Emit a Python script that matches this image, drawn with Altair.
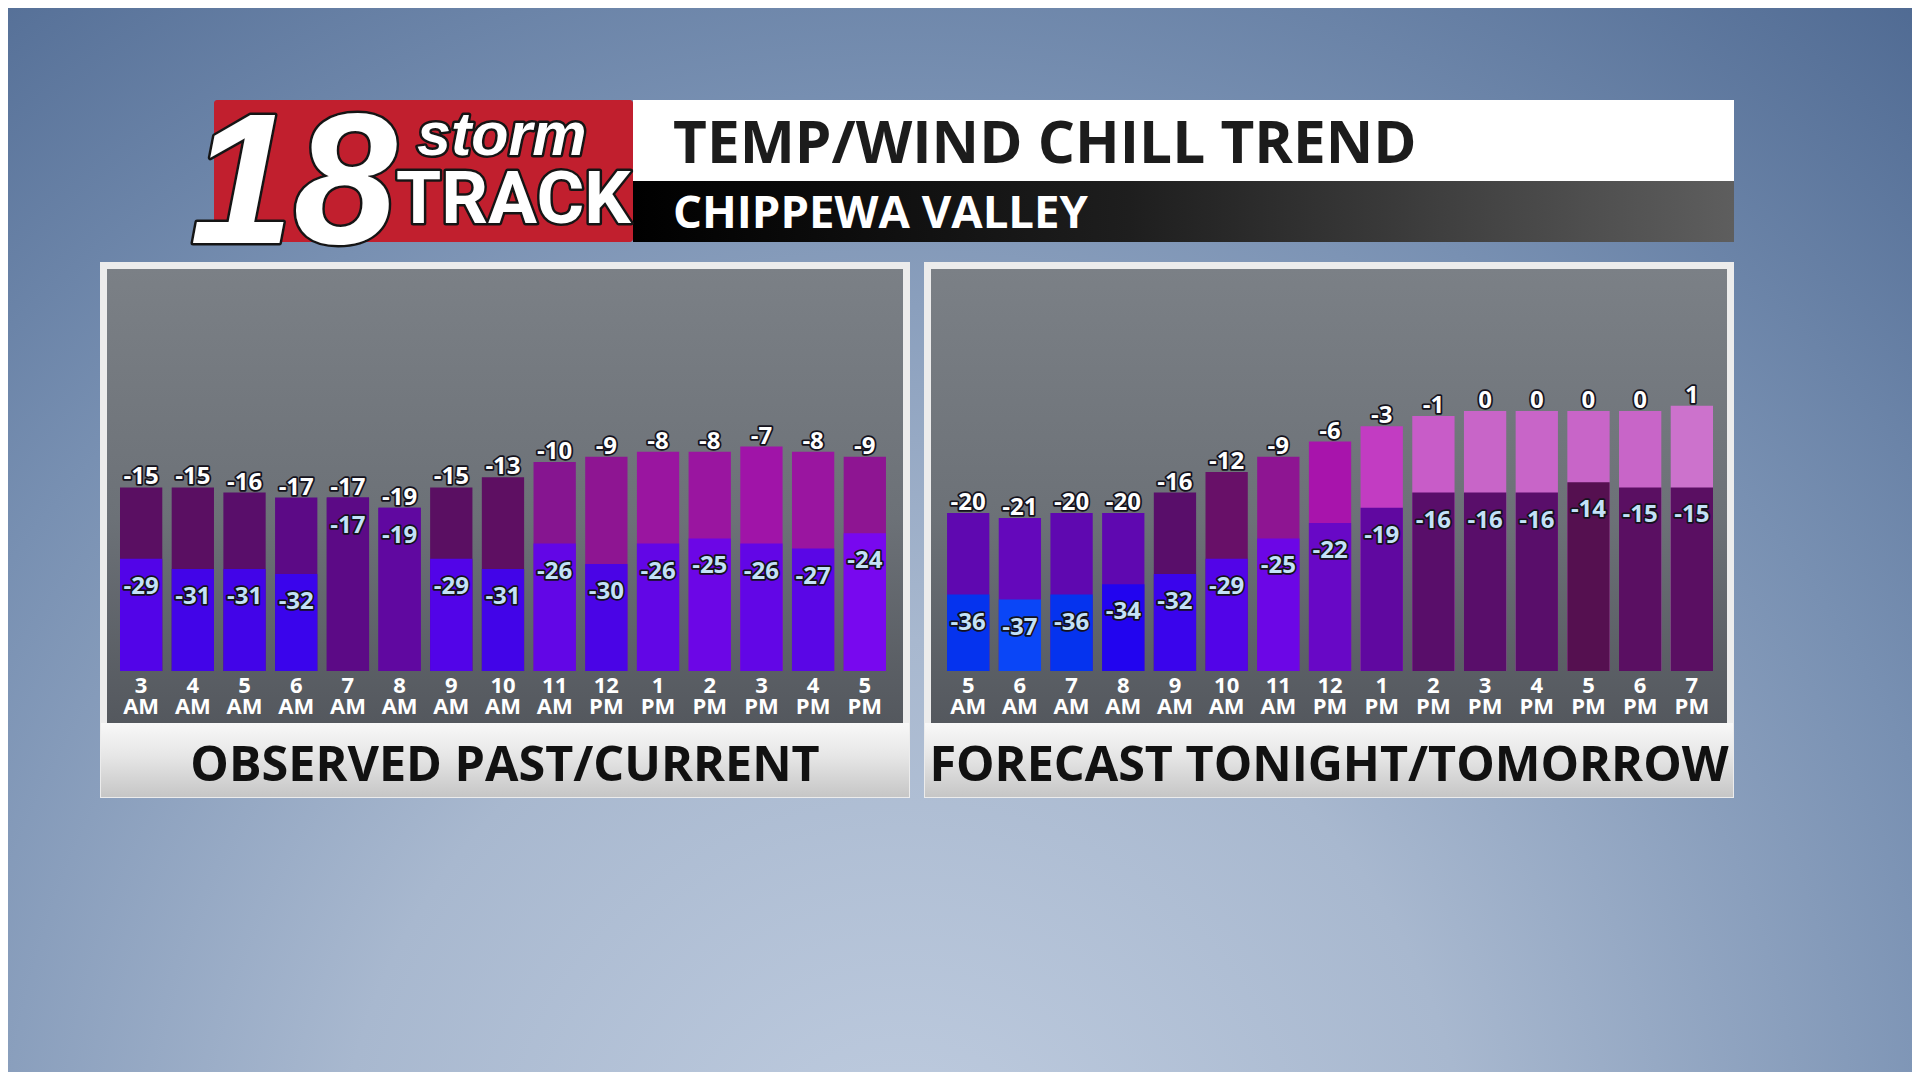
import altair as alt
import pandas as pd

# ---------------- data ----------------
left_hours = ["3 AM", "4 AM", "5 AM", "6 AM", "7 AM", "8 AM", "9 AM", "10 AM",
              "11 AM", "12 PM", "1 PM", "2 PM", "3 PM", "4 PM", "5 PM"]
left_temp = [-15, -15, -16, -17, -17, -19, -15, -13, -10, -9, -8, -8, -7, -8, -9]
left_chill = [-29, -31, -31, -32, -17, -19, -29, -31, -26, -30, -26, -25, -26, -27, -24]

right_hours = ["5 AM", "6 AM", "7 AM", "8 AM", "9 AM", "10 AM", "11 AM", "12 PM",
               "1 PM", "2 PM", "3 PM", "4 PM", "5 PM", "6 PM", "7 PM"]
right_temp = [-20, -21, -20, -20, -16, -12, -9, -6, -3, -1, 0, 0, 0, 0, 1]
right_chill = [-36, -37, -36, -34, -32, -29, -25, -22, -19, -16, -16, -16, -14, -15, -15]

title_text = "TEMP/WIND CHILL TREND"
subtitle_text = "CHIPPEWA VALLEY"
left_caption = "OBSERVED PAST/CURRENT"
right_caption = "FORECAST TONIGHT/TOMORROW"

# temperature colour table (value -> colour)
color_domain = [-37, -36, -34, -32, -31, -30, -29, -27, -26, -25, -24, -22, -20, -19,
                -17, -16, -15, -14, -13, -12, -10, -9, -8, -7, -6, -3, -1, 0, 1]
color_range = ["#0a46f7", "#0533ee", "#2204ef", "#3a04ec", "#4204e8", "#4a04e6", "#5204e8",
               "#5a06e6", "#6206e6", "#6c06e6", "#7808ef", "#6808c6", "#5f08b0", "#6008a0",
               "#5c0a86", "#590e6a", "#5a0f62", "#551050", "#5e0f62", "#681068", "#861590",
               "#8e1592", "#9a15a0", "#a014a8", "#a814ac", "#c23cc2", "#c85cc8", "#c865c8",
               "#cc72cc"]

# ---------------- table ----------------
keys = [f"L|{h}" for h in left_hours] + ["gap"] + [f"R|{h}" for h in right_hours]
df = pd.DataFrame({
    "key": [f"L|{h}" for h in left_hours] + [f"R|{h}" for h in right_hours],
    "temp": left_temp + right_temp,
    "chill": left_chill + right_chill,
})
df["temp_lbl"] = df["temp"].astype(str)
df["chill_lbl"] = df["chill"].astype(str)

W, H = 1904, 1064
FONT = "Open Sans"
BASE = -51

xscale = alt.Scale(domain=keys, range=[112, 1705], paddingInner=0.182, paddingOuter=0)
yscale = alt.Scale(domain=[BASE, 29], range=[663, 255], nice=False, zero=False)
cscale = alt.Scale(domain=color_domain, range=color_range, interpolate="rgb")

xaxis = alt.Axis(title=None, domain=False, ticks=False, grid=False, labelAngle=0,
                 labelExpr="indexof(datum.label, '|') < 0 ? '' : split(split(datum.label, '|')[1], ' ')",
                 labelFont=FONT, labelFontWeight="bold", labelFontSize=22, labelColor="white",
                 labelLineHeight=21, labelBaseline="top", labelPadding=0, offset=-397,
                 labelOverlap=False, labelBound=False, labelFlush=False, zindex=1)
X = alt.X("key:N", scale=xscale, axis=xaxis)

ONE = pd.DataFrame({"k": [0]})


def box(x, x2, y, y2, fill, **kw):
    return alt.Chart(ONE).mark_rect(fill=fill, **kw).encode(
        x=alt.value(x), x2=alt.value(x2), y=alt.value(y), y2=alt.value(y2))


def vgrad(stops):
    return alt.Gradient(gradient="linear", x1=0, y1=0, x2=0, y2=1,
                        stops=[alt.GradientStop(offset=o, color=c) for o, c in stops])


def word(txt, x, y, size, fill, align="left", font=FONT, italic=False, stroke=None, sw=0):
    kw = dict(text=txt, align=align, baseline="alphabetic", fontSize=size, font=font,
              fontWeight="bold", fill=fill)
    if italic:
        kw["fontStyle"] = "italic"
    if stroke:
        kw["stroke"] = stroke
        kw["strokeWidth"] = sw
        kw["strokeJoin"] = "round"
    return alt.Chart(ONE).mark_text(**kw).encode(x=alt.value(x), y=alt.value(y))


layers = []
# page background
layers.append(box(0, W, 0, H, alt.Gradient(
    gradient="radial", x1=0.47, y1=0.85, r1=0, x2=0.47, y2=0.85, r2=0.85,
    stops=[alt.GradientStop(offset=0, color="#c0cde0"),
           alt.GradientStop(offset=0.35, color="#a8b8cf"),
           alt.GradientStop(offset=0.68, color="#7890b2"),
           alt.GradientStop(offset=1, color="#4c6790")])))

# header
layers.append(box(206, 625, 92, 234, "#c11f2e", cornerRadius=3))
layers.append(box(625, 1726, 92, 173, "#ffffff"))
layers.append(box(625, 1726, 173, 234, alt.Gradient(
    gradient="linear", x1=0, y1=0, x2=1, y2=0,
    stops=[alt.GradientStop(offset=0, color="#000000"),
           alt.GradientStop(offset=0.45, color="#1e1e1e"),
           alt.GradientStop(offset=1, color="#5e5e5e")])))

# panels
for fx, fx2 in [(92, 902), (916, 1726)]:
    layers.append(box(fx, fx2, 254, 790, "#ececec"))
    layers.append(box(fx + 7, fx2 - 7, 261, 715, vgrad(
        [(0, "#7b8086"), (0.55, "#6c7177"), (1, "#54585e")])))
    layers.append(box(fx + 1, fx2 - 1, 715, 789, vgrad(
        [(0, "#f8f8f8"), (0.45, "#e6e6e6"), (1, "#c6c6c6")])))

# logo text
LOGO = "Liberation Sans, Arial, sans-serif"
for st, sw in [("#151515", 5), (None, 0)]:
    layers.append(word("18", 182, 235, 186, "white", font=LOGO, italic=True, stroke=st, sw=sw))
    layers.append(word("storm", 409, 147, 61, "white", font=LOGO, italic=True, stroke=st, sw=sw))
    layers.append(word("TRACK", 388, 215, 73, "white", font="Roboto", stroke=st, sw=sw))

# titles
layers.append(word(title_text, 665, 155, 58.5, "#1c1c1c"))
layers.append(word(subtitle_text, 665, 220, 45.5, "white"))
layers.append(word(left_caption, 497, 773, 48.5, "#111111", align="center"))
layers.append(word(right_caption, 1321, 773, 48.5, "#111111", align="center"))

# bars
base = alt.Chart(df).encode(x=X)
layers.append(base.mark_bar().encode(
    y=alt.Y("temp:Q", scale=yscale, axis=None), y2=alt.datum(BASE),
    color=alt.Color("temp:Q", scale=cscale, legend=None)))
layers.append(base.mark_bar().encode(
    y=alt.Y("chill:Q", scale=yscale, axis=None), y2=alt.datum(BASE),
    color=alt.Color("chill:Q", scale=cscale, legend=None)))

# value labels (outline + fill)
for st, sw in [("#14121c", 3.5), (None, 0)]:
    kw_t = dict(baseline="alphabetic", dy=-3, fontSize=24, font=FONT, fontWeight="bold",
                fill="#14121c" if st else "white")
    kw_c = dict(baseline="middle", dy=28, fontSize=24, font=FONT, fontWeight="bold",
                fill="#14121c" if st else "#c4e2f8")
    if st:
        kw_t.update(stroke=st, strokeWidth=sw, strokeJoin="round")
        kw_c.update(stroke=st, strokeWidth=sw, strokeJoin="round")
    layers.append(base.mark_text(**kw_t).encode(
        y=alt.Y("temp:Q", scale=yscale, axis=None), text="temp_lbl:N"))
    layers.append(base.mark_text(**kw_c).encode(
        y=alt.Y("chill:Q", scale=yscale, axis=None), text="chill_lbl:N"))

chart = alt.layer(*layers).properties(
    width=W, height=H, padding=0, autosize="none", background="#6f87a8"
).configure_view(stroke=None)

chart.save("out.html", embed_options={"renderer": "svg", "actions": False})
